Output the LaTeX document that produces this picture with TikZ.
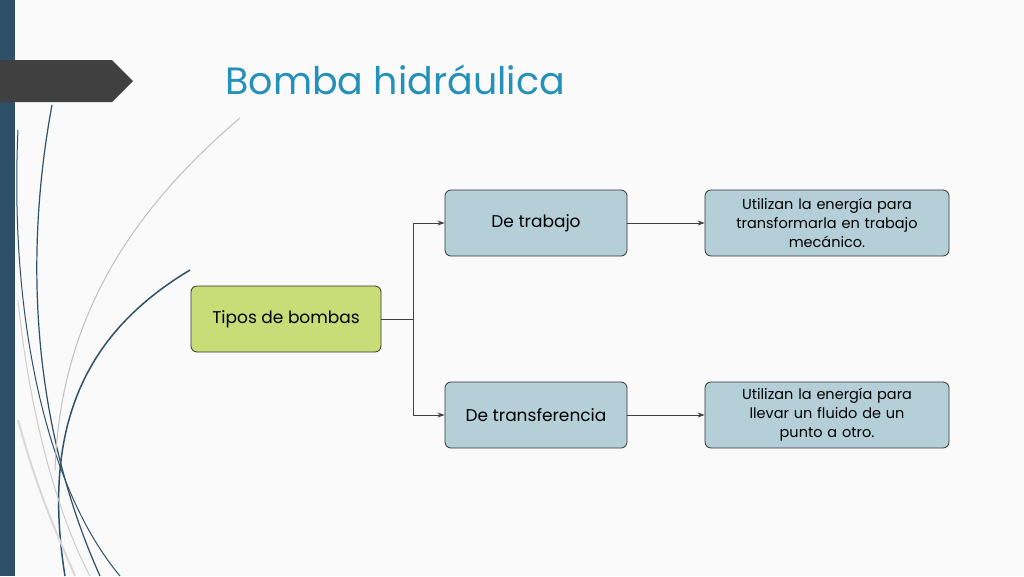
\documentclass[tikz,border=0pt]{standalone}
\usepackage{fontspec}
\setmainfont{Poppins}
\usetikzlibrary{arrows.meta,calc}
\definecolor{bar}{HTML}{2E5069}
\definecolor{greenbox}{HTML}{C8DC78}
\definecolor{bluebox}{HTML}{B4CFD8}
\definecolor{titlec}{HTML}{2590B8}
\tikzset{
 box/.style={draw=black!80,line width=0.8pt,rounded corners=6pt,minimum width=182pt,minimum height=66pt,align=center,font=\fontsize{17}{20}\selectfont},
 info/.style={box,minimum width=244pt,text width=230pt,font=\fontsize{14.5}{19}\selectfont},
 conn/.style={draw=black!75,line width=0.8pt,-{Stealth[length=7pt,width=5pt]}}
}
\begin{document}
\begin{tikzpicture}[x=1pt,y=-1pt]
\useasboundingbox (0,0) rectangle (1024,576);
\fill[white!96!gray] (0,0) rectangle (1024,576);
% left bar
\fill[bar] (0,0) rectangle (15,576);
\fill[black!75] (0,60) -- (112,60) -- (133,81) -- (112,102) -- (0,102) -- cycle;
% decorative curves
\draw[bar,line width=1.2pt] (52,105) .. controls (25,250) and (30,420) .. (100,576);
\draw[bar,line width=1.5pt] (190,270) .. controls (90,330) and (40,420) .. (65,576);
\draw[bar,line width=1pt] (18,130) .. controls (10,300) and (40,480) .. (120,576);
\draw[black!25,line width=1pt] (240,118) .. controls (120,220) and (60,330) .. (55,470);
\draw[black!20,line width=1pt] (18,300) .. controls (30,420) and (60,520) .. (90,576);
\draw[black!15,line width=2pt] (18,420) .. controls (40,500) and (60,540) .. (75,576);
% title
\node[anchor=west,text=titlec,font=\fontsize{38}{40}\selectfont] (title) at (222,80) {Bomba hidráulica};
% boxes
\node[box,fill=greenbox,minimum width=190pt] (tipos) at (286,319) {Tipos de bombas};
\node[box,fill=bluebox] (trab) at (536,223) {De trabajo};
\node[box,fill=bluebox] (trans) at (536,415) {De transferencia};
\node[info,fill=bluebox] (i1) at (827,223) {Utilizan la energía para\\transformarla en trabajo\\mecánico.};
\node[info,fill=bluebox] (i2) at (827,415) {Utilizan la energía para\\llevar un fluido de un\\punto a otro.};
\coordinate (j) at ($(tipos.east)+(32,0)$);
\draw[draw=black!75,line width=0.8pt] (tipos.east) -- (j);
\draw[conn] (j) |- (trab.west);
\draw[conn] (j) |- (trans.west);
\draw[conn] (trab.east) -- (i1.west);
\draw[conn] (trans.east) -- (i2.west);
\end{tikzpicture}
\end{document}
